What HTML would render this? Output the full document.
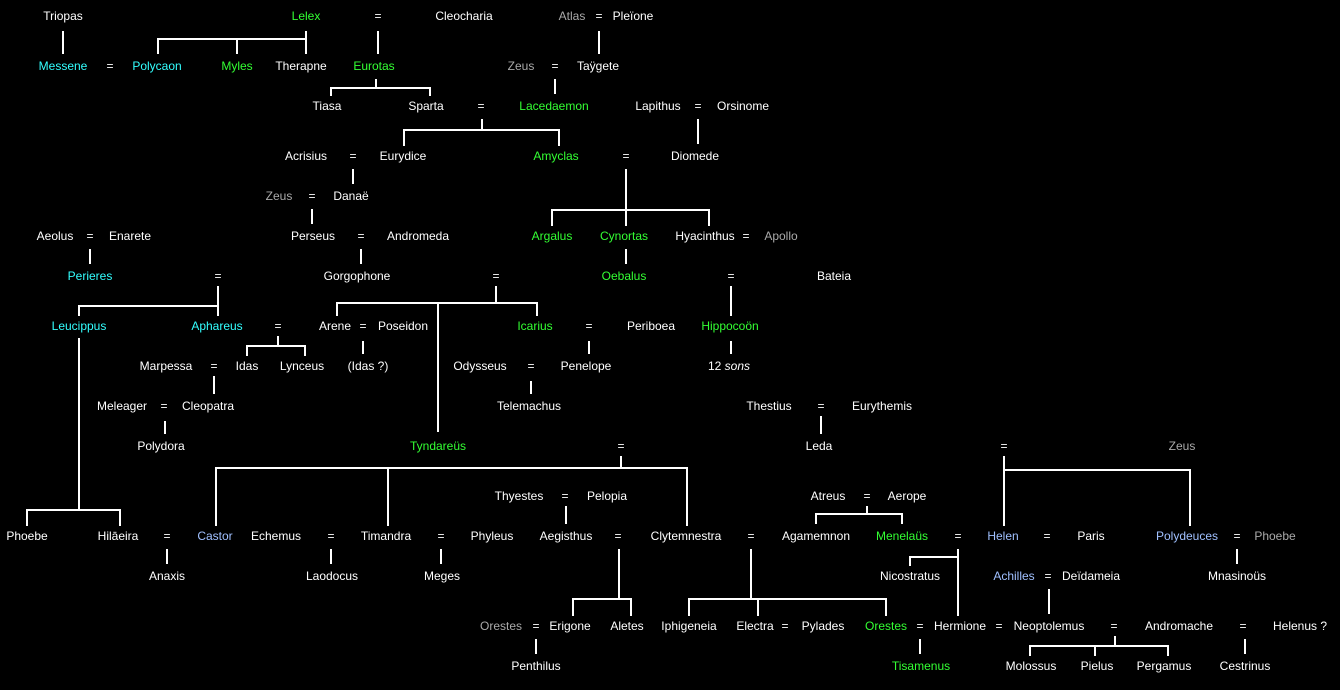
<!DOCTYPE html>
<html><head><meta charset="utf-8"><style>
html,body{margin:0;padding:0;background:#000;}
#c{position:relative;width:1340px;height:690px;overflow:hidden;background:#000;font-family:"Liberation Sans",Arial,sans-serif;font-size:12px;color:#fff;}
#c span{position:absolute;transform:translate(-50%,-50%);white-space:nowrap;line-height:14px;}
.g{color:#33ff33}.c{color:#33ffff}.b{color:#a0c0ff}.y{color:#aaaaaa}
svg{position:absolute;left:0;top:0}
</style></head><body><div id="c">
<svg width="1340" height="690" stroke="#fff" stroke-width="2" fill="none">
<path d="M63 31V54M158 54V39H306M237 39V54M306 31V54M378 31V54M599 31V54
M376 79V88M331 96V88H430V96M555 79V94M482 119V130M404 146V130H559V146M698 119V144
M353 169V184M312 209V224M626 169V210M552 226V210H709V226M626 210V226
M90 249V264M361 249V264M626 249V264M731 286V316
M218 286V316M79 316V306H218M79 338V510M496 286V303M337 316V303H537V316M438 303V432
M278 336V346M247 356V346H305V356M363 341V354M589 341V354M731 341V354
M214 376V394M531 381V394M821 416V434M165 421V434
M621 456V468M216 526V468H687V526M388 468V526
M1004 456V526M1004 470H1190V526M27 526V510H120V526
M566 506V524M867 506V514M816 524V514H902V524
M167 549V564M331 549V564M441 549V564
M619 549V599M573 616V599H631V616M751 549V599M689 616V599H886V616M758 599V616
M958 549V616M910 566V557H958M1237 549V564M1049 589V614
M536 639V654M920 639V654M1115 636V646M1030 656V646H1168V656M1095 646V656M1245 639V654"/>
</svg>
<span style="left:63px;top:16px">Triopas</span><span class="g" style="left:306px;top:16px">Lelex</span><span style="left:378px;top:16px">=</span><span style="left:464px;top:16px">Cleocharia</span><span class="y" style="left:572px;top:16px">Atlas</span><span style="left:599px;top:16px">=</span><span style="left:633px;top:16px">Pleïone</span>
<span class="c" style="left:63px;top:66px">Messene</span><span style="left:110px;top:66px">=</span><span class="c" style="left:157px;top:66px">Polycaon</span><span class="g" style="left:237px;top:66px">Myles</span><span style="left:301px;top:66px">Therapne</span><span class="g" style="left:374px;top:66px">Eurotas</span><span class="y" style="left:521px;top:66px">Zeus</span><span style="left:555px;top:66px">=</span><span style="left:598px;top:66px">Taÿgete</span>
<span style="left:327px;top:106px">Tiasa</span><span style="left:426px;top:106px">Sparta</span><span style="left:481px;top:106px">=</span><span class="g" style="left:554px;top:106px">Lacedaemon</span><span style="left:658px;top:106px">Lapithus</span><span style="left:698px;top:106px">=</span><span style="left:743px;top:106px">Orsinome</span>
<span style="left:306px;top:156px">Acrisius</span><span style="left:353px;top:156px">=</span><span style="left:403px;top:156px">Eurydice</span><span class="g" style="left:556px;top:156px">Amyclas</span><span style="left:626px;top:156px">=</span><span style="left:695px;top:156px">Diomede</span>
<span class="y" style="left:279px;top:196px">Zeus</span><span style="left:312px;top:196px">=</span><span style="left:351px;top:196px">Danaë</span>
<span style="left:55px;top:236px">Aeolus</span><span style="left:90px;top:236px">=</span><span style="left:130px;top:236px">Enarete</span><span style="left:313px;top:236px">Perseus</span><span style="left:361px;top:236px">=</span><span style="left:418px;top:236px">Andromeda</span><span class="g" style="left:552px;top:236px">Argalus</span><span class="g" style="left:624px;top:236px">Cynortas</span><span style="left:705px;top:236px">Hyacinthus</span><span style="left:746px;top:236px">=</span><span class="y" style="left:781px;top:236px">Apollo</span>
<span class="c" style="left:90px;top:276px">Perieres</span><span style="left:218px;top:276px">=</span><span style="left:357px;top:276px">Gorgophone</span><span style="left:496px;top:276px">=</span><span class="g" style="left:624px;top:276px">Oebalus</span><span style="left:731px;top:276px">=</span><span style="left:834px;top:276px">Bateia</span>
<span class="c" style="left:79px;top:326px">Leucippus</span><span class="c" style="left:217px;top:326px">Aphareus</span><span style="left:278px;top:326px">=</span><span style="left:335px;top:326px">Arene</span><span style="left:363px;top:326px">=</span><span style="left:403px;top:326px">Poseidon</span><span class="g" style="left:535px;top:326px">Icarius</span><span style="left:589px;top:326px">=</span><span style="left:651px;top:326px">Periboea</span><span class="g" style="left:730px;top:326px">Hippocoön</span>
<span style="left:166px;top:366px">Marpessa</span><span style="left:214px;top:366px">=</span><span style="left:247px;top:366px">Idas</span><span style="left:302px;top:366px">Lynceus</span><span style="left:368px;top:366px">(Idas ?)</span><span style="left:480px;top:366px">Odysseus</span><span style="left:531px;top:366px">=</span><span style="left:586px;top:366px">Penelope</span><span style="left:729px;top:366px">12 <i>sons</i></span>
<span style="left:122px;top:406px">Meleager</span><span style="left:164px;top:406px">=</span><span style="left:208px;top:406px">Cleopatra</span><span style="left:529px;top:406px">Telemachus</span><span style="left:769px;top:406px">Thestius</span><span style="left:821px;top:406px">=</span><span style="left:882px;top:406px">Eurythemis</span>
<span style="left:161px;top:446px">Polydora</span><span class="g" style="left:438px;top:446px">Tyndareüs</span><span style="left:621px;top:446px">=</span><span style="left:819px;top:446px">Leda</span><span style="left:1004px;top:446px">=</span><span class="y" style="left:1182px;top:446px">Zeus</span>
<span style="left:519px;top:496px">Thyestes</span><span style="left:565px;top:496px">=</span><span style="left:607px;top:496px">Pelopia</span><span style="left:828px;top:496px">Atreus</span><span style="left:867px;top:496px">=</span><span style="left:907px;top:496px">Aerope</span>
<span style="left:27px;top:536px">Phoebe</span><span style="left:118px;top:536px">Hilāeira</span><span style="left:167px;top:536px">=</span><span class="b" style="left:215px;top:536px">Castor</span><span style="left:276px;top:536px">Echemus</span><span style="left:331px;top:536px">=</span><span style="left:386px;top:536px">Timandra</span><span style="left:441px;top:536px">=</span><span style="left:492px;top:536px">Phyleus</span><span style="left:566px;top:536px">Aegisthus</span><span style="left:618px;top:536px">=</span><span style="left:686px;top:536px">Clytemnestra</span><span style="left:751px;top:536px">=</span><span style="left:816px;top:536px">Agamemnon</span><span class="g" style="left:902px;top:536px">Menelaüs</span><span style="left:958px;top:536px">=</span><span class="b" style="left:1003px;top:536px">Helen</span><span style="left:1047px;top:536px">=</span><span style="left:1091px;top:536px">Paris</span><span class="b" style="left:1187px;top:536px">Polydeuces</span><span style="left:1237px;top:536px">=</span><span class="y" style="left:1275px;top:536px">Phoebe</span>
<span style="left:167px;top:576px">Anaxis</span><span style="left:332px;top:576px">Laodocus</span><span style="left:442px;top:576px">Meges</span><span style="left:910px;top:576px">Nicostratus</span><span class="b" style="left:1014px;top:576px">Achilles</span><span style="left:1048px;top:576px">=</span><span style="left:1091px;top:576px">Deïdameia</span><span style="left:1237px;top:576px">Mnasinoüs</span>
<span class="y" style="left:501px;top:626px">Orestes</span><span style="left:536px;top:626px">=</span><span style="left:570px;top:626px">Erigone</span><span style="left:627px;top:626px">Aletes</span><span style="left:689px;top:626px">Iphigeneia</span><span style="left:755px;top:626px">Electra</span><span style="left:785px;top:626px">=</span><span style="left:823px;top:626px">Pylades</span><span class="g" style="left:886px;top:626px">Orestes</span><span style="left:920px;top:626px">=</span><span style="left:960px;top:626px">Hermione</span><span style="left:999px;top:626px">=</span><span style="left:1049px;top:626px">Neoptolemus</span><span style="left:1114px;top:626px">=</span><span style="left:1179px;top:626px">Andromache</span><span style="left:1243px;top:626px">=</span><span style="left:1300px;top:626px">Helenus ?</span>
<span style="left:536px;top:666px">Penthilus</span><span class="g" style="left:921px;top:666px">Tisamenus</span><span style="left:1031px;top:666px">Molossus</span><span style="left:1097px;top:666px">Pielus</span><span style="left:1164px;top:666px">Pergamus</span><span style="left:1245px;top:666px">Cestrinus</span>
</div></body></html>
